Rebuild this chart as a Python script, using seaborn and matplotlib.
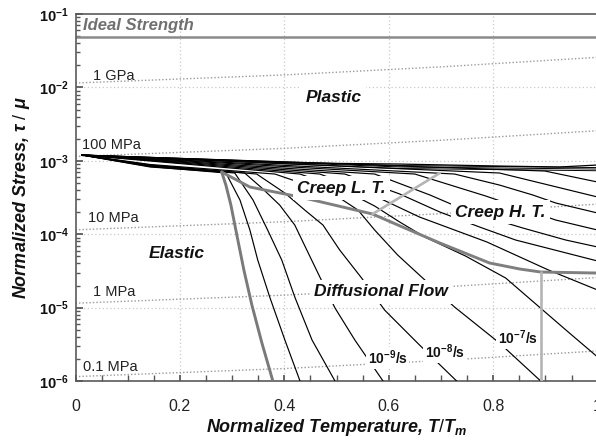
import numpy as np
import matplotlib
matplotlib.use("Agg")
import matplotlib.pyplot as plt
import seaborn as sns
from matplotlib.ticker import FixedLocator, MultipleLocator, FuncFormatter, LogLocator, NullFormatter

# ---------------- data (T/Tm, log10(tau/mu)) ----------------
# strain-rate contours (one per decade)
A_t = [0.012, 0.143, 0.280, 0.288, 0.2976, 0.309, 0.3225, 0.3378, 0.357, 0.378]
A_L = [-2.921, -3.084, -3.153, -3.330, -3.602, -4.011, -4.488, -4.965, -5.482, -6.0]
B_t = [0.012, 0.143, 0.288, 0.315, 0.334, 0.349, 0.372, 0.401, 0.430]
B_L = [-2.921, -3.078, -3.166, -3.534, -3.943, -4.351, -4.856, -5.441, -6.0]
C_t = [0.012, 0.143, 0.305, 0.340, 0.368, 0.395, 0.420, 0.453, 0.497]
C_L = [-2.921, -3.071, -3.166, -3.534, -3.943, -4.351, -4.856, -5.441, -6.0]
D_t = [0.012, 0.143, 0.324, 0.357, 0.391, 0.420, 0.443, 0.468, 0.497, 0.535, 0.589]
D_L = [-2.921, -3.064, -3.166, -3.371, -3.602, -3.875, -4.215, -4.583, -5.005, -5.441, -6.0]
E_t = [0.012, 0.143, 0.347, 0.401, 0.439, 0.474, 0.506, 0.548, 0.592, 0.659, 0.730]
E_L = [-2.921, -3.057, -3.180, -3.439, -3.670, -3.875, -4.215, -4.597, -5.033, -5.510, -6.0]
F_t = [0.012, 0.143, 0.382, 0.449, 0.506, 0.541, 0.573, 0.617, 0.665, 0.726, 0.812, 0.891]
F_L = [-2.921, -3.050, -3.180, -3.343, -3.507, -3.670, -3.943, -4.283, -4.597, -4.992, -5.482, -6.0]
G_t = [0.012, 0.430, 0.506, 0.573, 0.621, 0.669, 0.747, 0.824, 0.895, 0.946, 1.0]
G_L = [-2.921, -3.180, -3.371, -3.616, -3.834, -4.038, -4.297, -4.597, -5.033, -5.346, -5.673]
H_t = [0.012, 0.468, 0.545, 0.602, 0.659, 0.788, 0.906, 1.0]
H_L = [-2.921, -3.180, -3.384, -3.575, -3.766, -4.106, -4.488, -4.760]
I_t = [0.012, 0.516, 0.621, 0.698, 0.774, 0.843, 1.0]
I_L = [-2.921, -3.180, -3.452, -3.698, -3.902, -4.079, -4.365]
J_t = [0.012, 0.573, 0.679, 0.755, 0.857, 0.939, 1.0]
J_L = [-2.921, -3.180, -3.466, -3.698, -3.916, -4.079, -4.174]
K_t = [0.012, 0.650, 0.786, 0.920, 1.0]
K_L = [-2.921, -3.180, -3.480, -3.807, -3.943]
L_t = [0.012, 0.726, 0.812, 0.876, 0.920, 1.0]
L_L = [-2.921, -3.180, -3.330, -3.466, -3.575, -3.711]
M_t = [0.012, 0.812, 1.0]
M_L = [-2.921, -3.166, -3.493]
N_t = [0.012, 0.899, 1.0]
N_L = [-2.921, -3.139, -3.289]

# contours that stay in the plastic bundle
plastic_t = [0.012, 0.621, 1.0]
plastic_L = [[-2.921, -3.105, -3.135],
             [-2.921, -3.084, -3.112],
             [-2.921, -3.064, -3.092]]
top_t = [0.012, 0.277, 0.430, 0.621, 0.812, 0.927, 1.0]
top_L = [-2.921, -2.989, -3.030, -3.044, -3.071, -3.084, -3.057]

# field boundaries
bd_t = [0.280, 0.334, 0.430, 0.569, 0.631, 0.698, 0.793, 0.851, 0.891, 1.0]
bd_L = [-3.153, -3.357, -3.493, -3.725, -3.916, -4.120, -4.392, -4.474, -4.515, -4.529]
ltht_t = [0.569, 0.698]
ltht_L = [-3.725, -3.166]
vert_t = [0.891, 0.891]
vert_L = [-6.0, -4.515]
ideal_strength = 0.048

gpa_t = [0.0, 0.4, 0.7, 1.0]
gpa_L = [-1.94, -1.83, -1.72, -1.59]
stress_levels_mpa = [1000, 100, 10, 1, 0.1]
stress_labels = ["1 GPa", "100 MPa", "10 MPa", "1 MPa", "0.1 MPa"]
stress_label_t = [0.0335, 0.0124, 0.024, 0.0335, 0.0144]
stress_label_L = [-1.845, -2.785, -3.779, -4.787, -5.809]

region_labels = ["Plastic", "Creep L. T.", "Creep H. T.", "Elastic", "Diffusional Flow"]
region_t = [0.494, 0.510, 0.814, 0.194, 0.585]
region_L = [-2.144, -3.371, -3.698, -4.256, -4.787]

rate_labels = [r"$\mathbf{10^{-9}/s}$", r"$\mathbf{10^{-8}/s}$", r"$\mathbf{10^{-7}/s}$"]
rate_t = [0.598, 0.707, 0.847]
rate_L = [-5.687, -5.605, -5.414]

x_ticks = [0, 0.2, 0.4, 0.6, 0.8, 1.0]
x_ticklabels = ["0", "0.2", "0.4", "0.6", "0.8", "1"]

# ---------------- style ----------------
sns.set_theme(style="white")
plt.rcParams["font.family"] = ["Liberation Sans", "DejaVu Sans"]
plt.rcParams["mathtext.fontset"] = "custom"
plt.rcParams["mathtext.rm"] = "Liberation Sans"
plt.rcParams["mathtext.it"] = "Liberation Sans:italic:bold"
plt.rcParams["mathtext.bf"] = "Liberation Sans:bold"

fig = plt.figure(figsize=(5.96, 4.41), dpi=100)
ax = fig.add_axes([0.1267, 0.136, 0.876, 0.8322])
ax.set_yscale("log")


def draw(t, L, color="black", lw=0.9, z=3, ls="-"):
    sns.lineplot(x=np.asarray(t, float), y=10 ** np.asarray(L, float), ax=ax,
                 sort=False, estimator=None, color=color, linewidth=lw,
                 linestyle=ls, zorder=z, legend=False)


# grid
for xv in [0.2, 0.4, 0.6, 0.8]:
    ax.axvline(xv, color="#c9c9c9", lw=0.9, ls=(0, (1, 2)), zorder=0.5)
for yv in [1e-2, 1e-3, 1e-4, 1e-5]:
    ax.axhline(yv, color="#c9c9c9", lw=0.9, ls=(0, (1, 2)), zorder=0.5)

# constant stress lines
for lev in stress_levels_mpa:
    draw(gpa_t, np.asarray(gpa_L) + np.log10(lev / 1000.0), color="#9a9a9a", lw=1.0,
         z=1, ls=(0, (1, 1.5)))

# ideal strength
ax.axhline(ideal_strength, color="#8a8a8a", lw=1.8, zorder=2)

# plastic bundle
for pl in plastic_L:
    draw(plastic_t, pl, lw=0.7)
draw(top_t, top_L, lw=0.9)

# contours
curves = [(A_t, A_L), (B_t, B_L), (C_t, C_L), (D_t, D_L), (E_t, E_L), (F_t, F_L),
          (G_t, G_L), (H_t, H_L), (I_t, I_L), (J_t, J_L), (K_t, K_L), (L_t, L_L),
          (M_t, M_L), (N_t, N_L)]
for ct, cl in curves:
    draw(ct, cl, lw=0.85)

# boundaries
draw(A_t[2:], A_L[2:], color="#7a7a7a", lw=2.1, z=4)
draw(bd_t, bd_L, color="#7f7f7f", lw=2.1, z=4)
draw(ltht_t, ltht_L, color="#b5b5b5", lw=1.9, z=4)
draw(vert_t, vert_L, color="#b5b5b5", lw=1.9, z=4)

ax.set_xlim(0, 1)
ax.set_ylim(1e-6, 1e-1)

# texts
ax.text(0.014, 10 ** -1.150, "Ideal Strength", color="#707070", fontsize=12,
        fontweight="bold", fontstyle="italic", ha="left", va="center", zorder=6)
box = dict(boxstyle="square,pad=0.25", fc="white", ec="none")
for s, tt, ll in zip(region_labels, region_t, region_L):
    ax.text(tt, 10 ** ll, s, fontsize=12.5, fontweight="bold", fontstyle="italic",
            ha="center", va="center", color="#111111", bbox=box, zorder=6)
for s, tt, ll in zip(rate_labels, rate_t, rate_L):
    ax.text(tt, 10 ** ll, s, fontsize=10, ha="center", va="center", color="#111111",
            bbox=dict(boxstyle="square,pad=0.1", fc="white", ec="none"), zorder=6)
for s, tt, ll in zip(stress_labels, stress_label_t, stress_label_L):
    ax.text(tt, 10 ** ll, s, fontsize=10.5, ha="left", va="center", color="#222222", zorder=6)

# axes styling
for sp in ax.spines.values():
    sp.set_color("#5a5a5a")
    sp.set_linewidth(1.2)
ax.xaxis.set_major_locator(FixedLocator(x_ticks))
ax.set_xticklabels(x_ticklabels)
ax.xaxis.set_minor_locator(MultipleLocator(0.05))
ax.yaxis.set_major_locator(LogLocator(base=10, numticks=10))
ax.yaxis.set_major_formatter(FuncFormatter(lambda v, p: r"$\mathbf{10^{%d}}$" % int(round(np.log10(v)))))
ax.yaxis.set_minor_locator(LogLocator(base=10, subs=np.arange(2, 10), numticks=20))
ax.yaxis.set_minor_formatter(NullFormatter())
ax.tick_params(axis="both", which="both", direction="in", top=False, right=False,
               color="#555555", bottom=True, left=True)
ax.tick_params(axis="x", which="major", length=4, pad=13, labelsize=11.5, labelcolor="#222222")
ax.tick_params(axis="x", which="minor", length=4)
ax.tick_params(axis="y", which="major", length=5, pad=5, labelsize=10.5, labelcolor="#111111")
ax.tick_params(axis="y", which="minor", length=3)

ax.set_xlabel(r"Normalized Temperature, $\mathit{T/T_m}$", fontsize=13, fontweight="bold",
              fontstyle="italic", labelpad=2, color="#111111")
ax.set_ylabel(r"Normalized Stress, $\mathit{\tau\ /\ \mu}$", fontsize=13, fontweight="bold",
              fontstyle="italic", labelpad=5, color="#111111")

fig.savefig("out.png", dpi=100)
